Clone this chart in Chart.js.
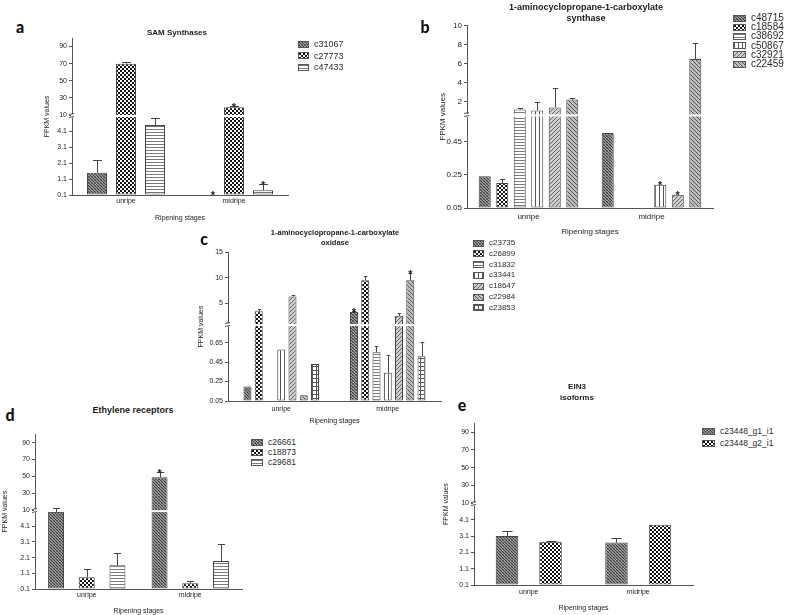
<!DOCTYPE html>
<html><head><meta charset="utf-8">
<script src="https://cdn.jsdelivr.net/npm/chart.js@4.4.0/dist/chart.umd.min.js"></script>
<style>
body{margin:0;background:#fff;width:787px;height:615px;position:relative;overflow:hidden;font-family:"Liberation Sans",Arial,sans-serif;}
canvas{position:absolute;}
.t{position:absolute;white-space:nowrap;color:#1a1a1a;}
.letter{font-family:Lato,"Open Sans",sans-serif;font-weight:900;color:#111;}
.ttl{font-weight:700;text-align:center;transform:translateX(-50%);}
.leg{display:flex;align-items:center;color:#2a2a2a;}
.sw{box-sizing:border-box;border:1px solid #555;margin-right:5px;flex:none;}
</style></head>
<body>
<script>
// ---------------- DATA ----------------
const categories = ['unripe', 'midripe'];

// a — SAM Synthases
const samSeries = ['c31067', 'c27773', 'c47433'];
const samMeans  = [[1.5, 0], [70, 19], [4.5, 0.4]];
const samErr    = [[0.8, 0], [2.5, 2], [0.45, 0.4]];
const samSig    = [[0, 1], [0, 1], [0, 1]];
const samTicks  = [0.1, 1.1, 2.1, 3.1, 4.1, 10, 30, 50, 70, 90];

// b — 1-aminocyclopropane-1-carboxylate synthase
const acsSeries = ['c48715', 'c18584', 'c38692', 'c50867', 'c32921', 'c22459'];
const acsMeans  = [[0.24, 0.50], [0.20, 0], [1.15, 0], [1.05, 0.19], [1.37, 0.13], [2.2, 6.5]];
const acsErr    = [[0, 0], [0.025, 0], [0.2, 0], [0.85, 0], [2.0, 0], [0.2, 1.7]];
const acsSig    = [[0, 0], [0, 0], [0, 0], [0, 1], [0, 1], [0, 0]];
const acsTicks  = [0.05, 0.25, 0.45, 2, 4, 6, 8, 10];

// c — 1-aminocyclopropane-1-carboxylate oxidase
const acoSeries = ['c23735', 'c26899', 'c31832', 'c33441', 'c18647', 'c22984', 'c23853'];
const acoMeans  = [[0.2, 3.25], [3.4, 9.5], [0, 0.55], [0.58, 0.34], [6.3, 2.5], [0.11, 9.5], [0.43, 0.51]];
const acoErr    = [[0, 0.3], [0.4, 0.8], [0, 0.07], [0, 0.18], [0.35, 0.5], [0, 1.4], [0, 0.15]];
const acoSig    = [[0, 1], [0, 0], [0, 0], [0, 0], [0, 0], [0, 1], [0, 0]];
const acoTicks  = [0.05, 0.25, 0.45, 0.65, 5, 10, 15];

// d — Ethylene receptors
const etrSeries = ['c26661', 'c18873', 'c29681'];
const etrMeans  = [[9, 49], [0.85, 0.47], [1.62, 1.88]];
const etrErr    = [[3, 6], [0.5, 0.13], [0.76, 1.07]];
const etrSig    = [[0, 1], [0, 0], [0, 0]];
const etrTicks  = [0.1, 1.1, 2.1, 3.1, 4.1, 10, 30, 50, 70, 90];

// e — EIN3 isoforms
const einSeries = ['c23448_g1_i1', 'c23448_g2_i1'];
const einMeans  = [[3.1, 2.7], [2.75, 3.8]];
const einErr    = [[0.3, 0.3], [0.05, 0]];
const einSig    = [[0, 0], [0, 0]];
const einTicks  = [0.1, 1.1, 2.1, 3.1, 4.1, 10, 30, 50, 70, 90];

// ---------------- STYLE ----------------
const patternOf = {
  c31067:'dense', c27773:'checker', c47433:'hlines',
  c48715:'dense', c18584:'checker', c38692:'hlines', c50867:'vlines', c32921:'diagR', c22459:'diagL',
  c23735:'dense', c26899:'checker', c31832:'hlines', c33441:'vlines', c18647:'diagR', c22984:'diagL', c23853:'grid',
  c26661:'dense', c18873:'checker', c29681:'hlines',
  'c23448_g1_i1':'dense', 'c23448_g2_i1':'checker'
};

function makeTile(kind) {
  const c = document.createElement('canvas');
  const g = c.getContext('2d');
  const px = (x, y, col) => { g.fillStyle = col; g.fillRect(x, y, 1, 1); };
  if (kind === 'dense') {
    c.width = c.height = 3; g.fillStyle = '#9c9c9c'; g.fillRect(0, 0, 3, 3);
    px(0, 0, '#3e3e3e'); px(1, 1, '#3e3e3e'); px(2, 2, '#3e3e3e'); px(2,0,'#777'); px(0,2,'#777');
  } else if (kind === 'checker') {
    c.width = c.height = 4; g.fillStyle = '#fff'; g.fillRect(0, 0, 4, 4);
    g.fillStyle = '#111'; g.fillRect(0, 0, 2, 2); g.fillRect(2, 2, 2, 2);
  } else if (kind === 'hlines') {
    c.width = 2; c.height = 3; g.fillStyle = '#fff'; g.fillRect(0, 0, 2, 3);
    g.fillStyle = '#7a7a7a'; g.fillRect(0, 0, 2, 1);
  } else if (kind === 'vlines') {
    c.width = 4; c.height = 2; g.fillStyle = '#fff'; g.fillRect(0, 0, 4, 2);
    g.fillStyle = '#555'; g.fillRect(0, 0, 1, 2);
  } else if (kind === 'diagR') {
    c.width = c.height = 4; g.fillStyle = '#cfcfcf'; g.fillRect(0, 0, 4, 4);
    px(3, 0, '#666'); px(2, 1, '#666'); px(1, 2, '#666'); px(0, 3, '#666');
  } else if (kind === 'diagL') {
    c.width = c.height = 4; g.fillStyle = '#bdbdbd'; g.fillRect(0, 0, 4, 4);
    px(0, 0, '#555'); px(1, 1, '#555'); px(2, 2, '#555'); px(3, 3, '#555');
  } else if (kind === 'grid') {
    c.width = c.height = 4; g.fillStyle = '#fff'; g.fillRect(0, 0, 4, 4);
    g.fillStyle = '#555'; g.fillRect(0, 0, 4, 1); g.fillRect(0, 0, 1, 4);
  }
  return c;
}
const tiles = {};
['dense','checker','hlines','vlines','diagR','diagL','grid'].forEach(k => tiles[k] = makeTile(k));

// ---------------- PANELS (layout) ----------------
const panels = [
  { letter:'a', letterPos:[20,27], title:['SAM Synthases'], titlePos:[177,33], titleSize:8, titleLh:10,
    series:samSeries, means:samMeans, err:samErr, sig:samSig, ticks:samTicks,
    brk:{lo:[0.1,5], loPx:[0,78], hi:[10,100], hiPx:[80,157]},
    box:{L:32, T:30, W:258, H:193, Wy:40, Hx:28, pt:8, pr:2, yTitlePad:11, xLabPad:2, xTitlePad:1},
    font:{tick:7, cat:7, axis:7}, bars:{cat:0.806, bar:0.69},
    legend:{x:298, y0:44, dy:11.5, size:9, sw:11, sh:7} },
  { letter:'b', letterPos:[425,27], title:['1-aminocyclopropane-1-carboxylate','synthase'], titlePos:[586,7], titleSize:9, titleLh:11,
    series:acsSeries, means:acsMeans, err:acsErr, sig:acsSig, ticks:acsTicks,
    brk:{lo:[0.05,0.6], loPx:[0,92], hi:[0.63,10], hiPx:[94,183]},
    box:{L:427, T:19, W:288, H:218, Wy:40, Hx:29, pt:6, pr:2, yTitlePad:11, xLabPad:4, xTitlePad:0},
    font:{tick:8, cat:8, axis:8}, bars:{cat:0.854, bar:0.686},
    legend:{x:733, y0:18, dy:9.2, size:10, sw:13, sh:7} },
  { letter:'c', letterPos:[204,239], title:['1-aminocyclopropane-1-carboxylate','oxidase'], titlePos:[335,233], titleSize:7.5, titleLh:10,
    series:acoSeries, means:acoMeans, err:acoErr, sig:acoSig, ticks:acoTicks,
    brk:{lo:[0.05,0.82], loPx:[0,75], hi:[0.88,15], hiPx:[77,149]},
    box:{L:188, T:246, W:255, H:179, Wy:40, Hx:24, pt:6, pr:2, yTitlePad:9, xLabPad:4, xTitlePad:0},
    font:{tick:7, cat:7, axis:7}, bars:{cat:0.74, bar:0.71},
    legend:{x:473, y0:243, dy:10.8, size:8, sw:11, sh:7} },
  { letter:'d', letterPos:[10,415], title:['Ethylene receptors'], titlePos:[133,410], titleSize:9, titleLh:11,
    series:etrSeries, means:etrMeans, err:etrErr, sig:etrSig, ticks:etrTicks,
    brk:{lo:[0.1,5], loPx:[0,77], hi:[10,100], hiPx:[79,155]},
    box:{L:0, T:428, W:244, H:187, Wy:35, Hx:26, pt:6, pr:2, yTitlePad:1, xLabPad:2, xTitlePad:0},
    font:{tick:7, cat:7, axis:7}, bars:{cat:0.89, bar:0.52},
    legend:{x:251, y0:442, dy:10, size:8.5, sw:12, sh:7} },
  { letter:'e', letterPos:[462,405], title:['EIN3','isoforms'], titlePos:[577,386], titleSize:8, titleLh:11,
    series:einSeries, means:einMeans, err:einErr, sig:einSig, ticks:einTicks,
    brk:{lo:[0.1,5], loPx:[0,80], hi:[10,100], hiPx:[82,162]},
    box:{L:434, T:417, W:261, H:195, Wy:40, Hx:27, pt:6, pr:2, yTitlePad:8, xLabPad:3, xTitlePad:0},
    font:{tick:7, cat:7, axis:7}, bars:{cat:0.795, bar:0.517},
    legend:{x:702, y0:431, dy:12, size:8.5, sw:13, sh:7} }
];

function makeMap(b) {
  return v => {
    if (v <= b.lo[1]) return Math.max(0, b.loPx[0] + (v - b.lo[0]) * (b.loPx[1] - b.loPx[0]) / (b.lo[1] - b.lo[0]));
    if (v >= b.hi[0]) return b.hiPx[0] + (v - b.hi[0]) * (b.hiPx[1] - b.hiPx[0]) / (b.hi[1] - b.hi[0]);
    return b.loPx[1];
  };
}

Chart.defaults.font.family = "'Liberation Sans', Arial, sans-serif";
Chart.defaults.color = '#222';

const extras = {
  id: 'extras',
  afterDatasetsDraw(chart, args, opts) {
    const p = opts.panel, f = p.f, ctx = chart.ctx, ys = chart.scales.y, ca = chart.chartArea;
    const yLo = ys.getPixelForValue(p.brk.loPx[1]);
    const yHi = ys.getPixelForValue(p.brk.hiPx[0]);
    ctx.save();
    // white break band through bars
    ctx.fillStyle = '#fff';
    ctx.fillRect(ca.left + 1, yHi, ca.right - ca.left, Math.max(2, yLo - yHi));
    // axis break marks
    ctx.fillRect(ca.left - 1, yHi - 0.5, 3, Math.max(2, yLo - yHi) + 1);
    ctx.strokeStyle = '#555'; ctx.lineWidth = 1;
    ctx.beginPath();
    ctx.moveTo(ca.left - 3, Math.round(yHi) - 0.5); ctx.lineTo(ca.left + 2, Math.round(yHi) - 1.5);
    ctx.moveTo(ca.left - 3, Math.round(yLo) + 0.5); ctx.lineTo(ca.left + 2, Math.round(yLo) - 0.5);
    ctx.stroke();
    // error bars and significance
    ctx.strokeStyle = '#444';
    ctx.fillStyle = '#222';
    ctx.font = 'bold 11px "Liberation Sans", Arial, sans-serif';
    ctx.textAlign = 'center'; ctx.textBaseline = 'alphabetic';
    p.means.forEach((row, i) => {
      const meta = chart.getDatasetMeta(i);
      row.forEach((m, j) => {
        const el = meta.data[j];
        const sd = p.err[i][j];
        let topY = m ? ys.getPixelForValue(f(m)) : ys.getPixelForValue(0);
        if (m && sd > 0) {
          const ey = Math.round(ys.getPixelForValue(f(m + sd))) + 0.5;
          const x = Math.round(el.x) + 0.5, cw = el.width * 0.45;
          ctx.beginPath();
          ctx.moveTo(x, topY); ctx.lineTo(x, ey);
          ctx.moveTo(x - cw / 2, ey); ctx.lineTo(x + cw / 2, ey);
          ctx.stroke();
          topY = ey;
        }
        if (p.sig[i][j]) ctx.fillText('*', el.x + (m ? 0 : el.width * 0.4), topY + 4);
      });
    });
    ctx.restore();
  }
};

function addText(cls, text, x, y, css) {
  const d = document.createElement('div');
  d.className = 't ' + cls; d.textContent = text;
  Object.assign(d.style, css, {left: x + 'px', top: y + 'px'});
  document.body.appendChild(d); return d;
}

panels.forEach(p => {
  p.f = makeMap(p.brk);
  const bx = p.box;
  const plotH = p.brk.hiPx[1];
  const cv = document.createElement('canvas');
  cv.width = bx.W; cv.height = bx.H;
  cv.style.left = bx.L + 'px'; cv.style.top = bx.T + 'px';
  document.body.appendChild(cv);

  const datasets = p.series.map((name, i) => ({
    label: name,
    data: p.means[i].map(v => v ? p.f(v) : null),
    backgroundColor: cv.getContext('2d').createPattern(tiles[patternOf[name]], 'repeat'),
    borderColor: '#444', borderWidth: 1, borderSkipped: false,
    categoryPercentage: p.bars.cat, barPercentage: p.bars.bar
  }));

  new Chart(cv, {
    type: 'bar',
    data: { labels: categories, datasets },
    options: {
      responsive: false, animation: false, devicePixelRatio: 1,
      layout: { padding: { top: bx.pt, right: bx.pr, left: 0, bottom: 0 } },
      plugins: { legend: { display: false }, tooltip: { enabled: false }, extras: { panel: p } },
      scales: {
        x: {
          grid: { display: false, drawTicks: false },
          border: { color: '#555', width: 1 },
          ticks: { padding: bx.xLabPad, font: { size: p.font.cat }, color: '#222' },
          title: { display: true, text: 'Ripening stages', font: { size: p.font.axis }, color: '#222', padding: { top: 0, bottom: bx.xTitlePad } },
          afterFit: s => { s.height = bx.Hx; }
        },
        y: {
          min: 0, max: plotH,
          afterBuildTicks: s => { s.ticks = p.ticks.map(v => ({ value: p.f(v) })); },
          ticks: { autoSkip: false, padding: 2, font: { size: p.font.tick }, color: '#222',
                   callback: (v, i) => String(p.ticks[i]) },
          grid: { drawOnChartArea: false, tickLength: 3, color: '#555' },
          border: { color: '#555', width: 1 },
          title: { display: true, text: 'FPKM values', font: { size: p.font.axis }, color: '#222', padding: { top: bx.yTitlePad, bottom: 0 } },
          afterFit: s => { s.width = bx.Wy; }
        }
      }
    },
    plugins: [extras]
  });

  // panel letter
  addText('letter', p.letter, p.letterPos[0], p.letterPos[1], { fontSize: '16px', lineHeight: '18px', transform: 'translate(-50%,-50%)' });
  // title
  const tt = addText('ttl', '', p.titlePos[0], p.titlePos[1] - p.titleLh / 2, { fontSize: p.titleSize + 'px', lineHeight: p.titleLh + 'px' });
  tt.innerHTML = p.title.join('<br>');
  // legend
  const lg = p.legend;
  p.series.forEach((name, i) => {
    const row = document.createElement('div');
    row.className = 't leg';
    Object.assign(row.style, { left: lg.x + 'px', top: (lg.y0 + i * lg.dy - 6) + 'px', height: '12px', fontSize: lg.size + 'px', lineHeight: '12px' });
    const sw = document.createElement('div');
    sw.className = 'sw';
    Object.assign(sw.style, { width: lg.sw + 'px', height: lg.sh + 'px', backgroundImage: 'url(' + tiles[patternOf[name]].toDataURL() + ')' });
    const tx = document.createElement('span'); tx.textContent = name;
    row.appendChild(sw); row.appendChild(tx);
    document.body.appendChild(row);
  });
});
</script>
</body></html>
